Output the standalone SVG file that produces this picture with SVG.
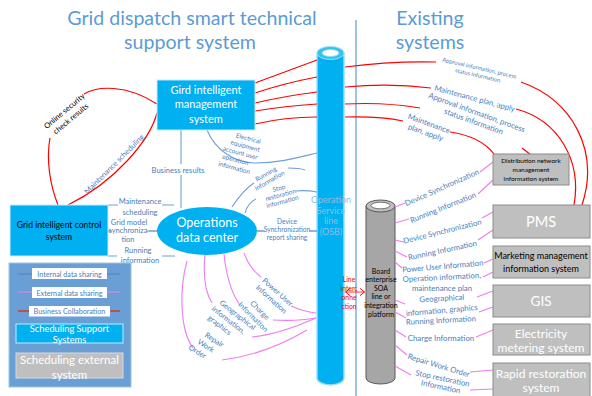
<svg xmlns="http://www.w3.org/2000/svg" width="592" height="396" viewBox="0 0 592 396">
  <defs>
    <style>
      text { font-family: Lato, "Liberation Sans", sans-serif; }
      .title { font-size: 19.6px; fill: #5b9bd5; text-anchor: middle; }
      .lab { fill: #4a7ebb; text-anchor: middle; }
      .red { fill: none; stroke: #ff0000; stroke-width: 1.2; }
      .blue { fill: none; stroke: #6f9fd6; stroke-width: 1.1; }
      .pink { fill: none; stroke: #ee7cee; stroke-width: 1.1; }
      .bg { fill: #ffffff; }
      .gbox { fill: #bfbfbf; stroke: #8c8c8c; stroke-width: 1; }
      .wt { fill: #ffffff; text-anchor: middle; }
      .bt { fill: #000000; text-anchor: middle; }
    </style>
    <marker id="chev" viewBox="0 0 6 8" refX="5" refY="4" markerWidth="6" markerHeight="8" orient="auto-start-reverse" markerUnits="userSpaceOnUse">
      <path d="M0,0 L5,4 L0,8" fill="none" stroke="#ff0000" stroke-width="1"/>
    </marker>
  </defs>

  <!-- headings -->
  <text class="title" x="192" y="25">Grid dispatch smart technical</text>
  <text class="title" x="190" y="49">support system</text>
  <text class="title" x="430" y="25">Existing</text>
  <text class="title" x="430" y="49">systems</text>

  <!-- divider between the two halves -->
  <line x1="356" y1="20" x2="356" y2="396" stroke="#9dc3e6" stroke-width="2"/>

  <!-- service bus column -->
  <g id="osb">
    <path d="M317,53 V378 A13.5,7 0 0 0 344,378 V53 Z" fill="#00b0f0" stroke="#9fdcf7" stroke-width="1.5"/>
    <ellipse cx="330.5" cy="53" rx="13.5" ry="6.5" fill="#33c3f3" stroke="#9fdcf7" stroke-width="1"/>
    <ellipse cx="330.5" cy="53" rx="8.5" ry="3.5" fill="#ffffff" stroke="#8ad6f5" stroke-width="0.8"/>
    <g class="lab" font-size="9" style="fill:#8fbde6">
      <text x="331" y="203">Operation</text>
      <text x="331" y="214">Service</text>
      <text x="331" y="224">line</text>
      <text x="331" y="235">(OSB)</text>
    </g>
  </g>

  <!-- enterprise integration platform column -->
  <g id="soa">
    <path d="M366,206 V378 A14.5,6 0 0 0 395,378 V206 Z" fill="#a6a6a6" stroke="#595959" stroke-width="1"/>
    <ellipse cx="380.5" cy="206" rx="14.5" ry="6" fill="#bfbfbf" stroke="#595959" stroke-width="1"/>
    <ellipse cx="380.5" cy="205.5" rx="9.5" ry="3.3" fill="#ffffff" stroke="#595959" stroke-width="0.8"/>
    <g class="bt" font-size="7">
      <text x="381" y="274">Board</text>
      <text x="381" y="282">enterprise</text>
      <text x="381" y="291">SOA</text>
      <text x="381" y="299">line or</text>
      <text x="381" y="308">integration</text>
      <text x="381" y="317">platform</text>
    </g>
  </g>

  <!-- connectors -->
  <g id="connectors">
    <!-- business collaboration (red) -->
    <path class="red" d="M255,83 Q285,72 317,60"/>
    <path class="red" d="M255,93 Q285,83 317,77"/>
    <path class="red" d="M255,103 Q285,96 317,92"/>
    <path class="red" d="M255,111 Q285,106 317,104"/>
    <path class="red" d="M255,124 Q285,117 317,117"/>
    <path class="red" d="M345,67 Q390,61 436,62"/>
    <path class="red" d="M345,87 Q390,83 431,88"/>
    <path class="red" d="M345,104 Q385,102 420,108"/>
    <path class="red" d="M345,117 Q380,116 403,121"/>
    <path class="red" d="M521,82 C572,100 600,150 582,205"/>
    <path class="red" d="M516,109 C558,120 582,160 574,205"/>
    <path class="red" d="M522,148 L531,155"/>
    <path class="red" d="M450,132 C470,135 485,142 494,154"/>
    <path class="red" d="M84,94 C97,86 126,84 157,104"/>
    <path class="red" d="M50,138 C46,160 50,185 58,205"/>
    <path class="red" d="M157,113 C150,140 115,182 68,205"/>
    <line x1="345.5" y1="292" x2="364.5" y2="292" stroke="#ff0000" stroke-width="0.8" marker-start="url(#chev)" marker-end="url(#chev)"/>

    <!-- internal data sharing (blue) -->
    <path class="blue" d="M181,130 V208"/>
    <path class="blue" d="M207,130 C215,150 235,163 255,163 C280,163 300,157 317,153"/>
    <path class="blue" d="M232,207 C240,195 246,188 254,183"/>
    <path class="blue" d="M288,168 Q300,168 305,170"/>
    <path class="blue" d="M245,213 C247,206 250,202 256,199"/>
    <path class="blue" d="M296,191 Q306,190 317,192"/>
    <path class="blue" d="M257,231 H317"/>
    <path class="blue" d="M108,205 H174"/>
    <path class="blue" d="M108,231 H158"/>
    <path class="blue" d="M108,256 H175"/>

    <!-- external data sharing (pink) -->
    <path class="pink" d="M244,253 C248,264 253,271 261,277"/>
    <path class="pink" d="M291,306 C300,310 308,312 316,313"/>
    <path class="pink" d="M224,254 C226,275 232,295 240,305"/>
    <path class="pink" d="M273,320 C290,321 305,320 316,318"/>
    <path class="pink" d="M205,254 C203,275 205,292 212,303"/>
    <path class="pink" d="M252,337 C275,335 300,325 316,318"/>
    <path class="pink" d="M187,261 C179,290 180,330 193,348"/>
    <path class="pink" d="M222,360 C255,356 285,343 307,330"/>

    <path class="pink" d="M395,207 L405,203"/>
    <path class="pink" d="M480,172 L493,162"/>
    <path class="pink" d="M395,223 L409,219"/>
    <path class="pink" d="M478,194 L493,180"/>
    <path class="pink" d="M395,240 L404,242"/>
    <path class="pink" d="M482,218 L493,212"/>
    <path class="pink" d="M395,251 L407,257"/>
    <path class="pink" d="M478,240 L493,230"/>
    <path class="pink" d="M395,262 L402,268"/>
    <path class="pink" d="M484,263 L493,259"/>
    <path class="pink" d="M483,277 L493,272"/>
    <path class="pink" d="M395,300 L405,304"/>
    <path class="pink" d="M477,297 L493,291"/>
    <path class="pink" d="M395,312 L406,318"/>
    <path class="pink" d="M479,312 L493,307"/>
    <path class="pink" d="M395,330 L406,337"/>
    <path class="pink" d="M476,337 L493,330"/>
    <path class="pink" d="M395,345 L407,355"/>
    <path class="pink" d="M470,372 L493,370"/>
    <path class="pink" d="M395,366 L411,375"/>
    <path class="pink" d="M470,390 L493,389"/>
  </g>

  <!-- connector labels -->
  <g id="labels">
    <g class="lab" font-size="5.8" transform="translate(479,70) rotate(13)">
      <text x="0" y="0">Approval information, process</text>
      <text x="0" y="7.5">status information</text>
    </g>
    <text class="lab" font-size="7.8" transform="translate(474,101) rotate(15)">Maintenance plan, apply</text>
    <g class="lab" font-size="7.8" transform="translate(476,115) rotate(20)">
      <text x="0" y="0">Approval information, process</text>
      <text x="0" y="9.5">status information</text>
    </g>
    <g class="lab" font-size="7.8" transform="translate(428,126) rotate(20)">
      <text x="0" y="0">Maintenance</text>
      <text x="0" y="9.5">plan, apply</text>
    </g>

    <g class="bt" font-size="7.6" transform="translate(66,113) rotate(-40)">
      <text x="0" y="0">Online security</text>
      <text x="0" y="10">check results</text>
    </g>
    <text class="lab" font-size="7.6" transform="translate(116,166) rotate(-45)">Maintenance scheduling</text>

    <rect class="bg" x="148" y="164" width="60" height="11"/>
    <text class="lab" font-size="7.6" x="178" y="172.5">Business results</text>

    <g class="lab" font-size="6.4" transform="rotate(15 240 154)">
      <text x="244" y="139">Electrical</text>
      <text x="243" y="147">equipment</text>
      <text x="240" y="155">account user</text>
      <text x="237" y="163">operation</text>
      <text x="238" y="171">information</text>
    </g>
    <g class="lab" font-size="6.5" transform="translate(267,176) rotate(-30)">
      <text x="0" y="0">Running</text>
      <text x="0" y="7.5">information</text>
    </g>
    <g class="lab" font-size="6.5" transform="translate(281,196) rotate(-15)">
      <text x="0" y="-6">Stop</text>
      <text x="0" y="1">restoration</text>
      <text x="0" y="8">information</text>
    </g>
    <rect class="bg" x="264" y="217" width="46" height="24"/>
    <g class="lab" font-size="6.6">
      <text x="287" y="224">Device</text>
      <text x="287" y="232">Synchronization</text>
      <text x="287" y="240">report sharing</text>
    </g>
    <path class="blue" d="M257,231 H265"/>
    <path class="blue" d="M309,231 H317"/>

    <rect class="bg" x="118" y="197" width="44" height="20"/>
    <rect class="bg" x="111" y="218" width="38" height="26"/>
    <rect class="bg" x="117" y="246" width="45" height="18"/>
    <g class="lab" font-size="7.5">
      <text x="140" y="204">Maintenance</text>
      <text x="140" y="214.5">scheduling</text>
      <text x="129" y="224.5">Grid model</text>
      <text x="128" y="233">synchroniza</text>
      <text x="128" y="242">tion</text>
      <text x="138" y="253">Running</text>
      <text x="140" y="263">information</text>
    </g>
    <path class="blue" d="M108,231 H112"/>
    <path class="blue" d="M147,231 H158"/>

    <g class="lab" font-size="7.5" transform="translate(276,294) rotate(42)">
      <text x="0" y="0">Power User</text>
      <text x="0" y="9.5">Information</text>
    </g>
    <g class="lab" font-size="7.5" transform="translate(258,312) rotate(45)">
      <text x="0" y="0">Charge</text>
      <text x="0" y="9.5">Information</text>
    </g>
    <g class="lab" font-size="7.5" transform="translate(236,317) rotate(38)">
      <text x="0" y="0">Geographical</text>
      <text x="-4" y="9.5">information,</text>
      <text x="-8" y="19">graphics</text>
    </g>
    <g class="lab" font-size="7.5" transform="translate(213,342) rotate(32)">
      <text x="0" y="0">Repair</text>
      <text x="-4" y="9.5">Work</text>
      <text x="-8" y="19">Order</text>
    </g>

    <g fill="#ff0000" font-size="6.8" text-anchor="middle">
      <text x="349" y="282">Line</text>
      <text x="349" y="291">interc</text>
      <text x="349" y="300">onne</text>
      <text x="349" y="309">ction</text>
    </g>

    <text class="lab" font-size="7.8" transform="translate(443,190) rotate(-24)">Device Synchronization</text>
    <text class="lab" font-size="7.8" transform="translate(444,210) rotate(-22)">Running Information</text>
    <text class="lab" font-size="7.8" transform="translate(443,234) rotate(-14)">Device Synchronization</text>
    <text class="lab" font-size="7.8" transform="translate(443,253) rotate(-12)">Running Information</text>
    <text class="lab" font-size="7.8" transform="translate(443,269) rotate(-5)">Power User Information</text>
    <text class="lab" font-size="7.8" transform="translate(442,280) rotate(-3)">Operation information,</text>
    <text class="lab" font-size="7.8" x="442" y="291">maintenance plan</text>
    <text class="lab" font-size="7.8" transform="translate(442,301) rotate(-3)">Geographical</text>
    <text class="lab" font-size="7.8" transform="translate(442,313) rotate(-5)">information, graphics</text>
    <text class="lab" font-size="7.8" transform="translate(441,323) rotate(-3)">Running Information</text>
    <text class="lab" font-size="7.8" x="441" y="341">Charge Information</text>
    <text class="lab" font-size="7.8" transform="translate(438,368) rotate(17)">Repair Work Order</text>
    <g class="lab" font-size="7.8" transform="translate(442,381) rotate(12)">
      <text x="0" y="0">Stop restoration</text>
      <text x="0" y="8.5">Information</text>
    </g>
  </g>

  <!-- support-side nodes -->
  <g id="grid-management">
    <rect x="157" y="80" width="98" height="50" fill="#00b0f0" stroke="#c4ebfb" stroke-width="1"/>
    <text class="wt" font-size="11" x="206" y="94">Gird intelligent</text>
    <text class="wt" font-size="11" x="206" y="108">management</text>
    <text class="wt" font-size="11" x="206" y="123">system</text>
  </g>

  <g id="grid-control">
    <rect x="10" y="205" width="98" height="51" fill="#00b0f0" stroke="#c4ebfb" stroke-width="1"/>
    <text class="bt" font-size="8.6" x="59" y="228">Grid intelligent control</text>
    <text class="bt" font-size="8.6" x="59" y="240">system</text>
  </g>

  <g id="data-center">
    <ellipse cx="207" cy="231" rx="50" ry="24" fill="#00b0f0"/>
    <text class="wt" font-size="12.5" x="207" y="227">Operations</text>
    <text class="wt" font-size="12.5" x="207" y="242">data center</text>
  </g>

  <!-- legend -->
  <g id="legend">
    <rect x="9" y="263" width="122" height="124" fill="#6a9fd5" stroke="#9dc3e6" stroke-width="1"/>
    <line x1="18" y1="274" x2="120" y2="274" stroke="#4f81bd" stroke-width="1"/>
    <rect class="bg" x="32" y="268" width="75" height="11"/>
    <text class="lab" font-size="7.2" x="69.5" y="276.5">Internal data sharing</text>
    <line x1="18" y1="292" x2="120" y2="292" stroke="#ee7cee" stroke-width="1"/>
    <rect class="bg" x="32" y="287" width="75" height="11"/>
    <text class="lab" font-size="7.2" x="69.5" y="295.5">External data sharing</text>
    <line x1="18" y1="311" x2="120" y2="311" stroke="#c0504d" stroke-width="2"/>
    <rect class="bg" x="29" y="306" width="81" height="10.5"/>
    <text class="lab" font-size="7.2" x="69.5" y="314">Business Collaboration</text>
    <rect x="16" y="324" width="107" height="19" fill="#00b0f0" stroke="#c4ebfb" stroke-width="1"/>
    <text class="wt" font-size="9.3" x="69.5" y="331.5">Scheduling Support</text>
    <text class="wt" font-size="9.3" x="69.5" y="343">Systems</text>
    <rect x="16" y="353" width="107" height="25" fill="#bfbfbf" stroke="#d9d9d9" stroke-width="1"/>
    <text class="wt" font-size="11.5" x="69.5" y="363.5">Scheduling external</text>
    <text class="wt" font-size="11.5" x="69.5" y="378.5">system</text>
  </g>

  <!-- existing systems -->
  <g id="distribution">
    <rect class="gbox" x="493" y="154" width="76" height="31" stroke="#595959"/>
    <text class="bt" font-size="6.5" x="531" y="163">Distribution network</text>
    <text class="bt" font-size="6.5" x="531" y="172">management</text>
    <text class="bt" font-size="6.5" x="531" y="181">information system</text>
  </g>
  <g id="pms">
    <rect class="gbox" x="493" y="205" width="97" height="33"/>
    <text class="wt" font-size="14.5" x="541" y="227">PMS</text>
  </g>
  <g id="marketing">
    <rect class="gbox" x="493" y="246" width="97" height="32"/>
    <text class="bt" font-size="9" x="541" y="259">Marketing management</text>
    <text class="bt" font-size="9" x="541" y="272">information system</text>
  </g>
  <g id="gis">
    <rect class="gbox" x="493" y="285" width="97" height="32"/>
    <text class="wt" font-size="13.5" x="541" y="306">GIS</text>
  </g>
  <g id="metering">
    <rect class="gbox" x="493" y="324" width="97" height="31"/>
    <text class="wt" font-size="12" x="541" y="337.5">Electricity</text>
    <text class="wt" font-size="12" x="541" y="352">metering system</text>
  </g>
  <g id="rapid-restoration">
    <rect class="gbox" x="493" y="363" width="97" height="36"/>
    <text class="wt" font-size="12" x="541" y="377.5">Rapid restoration</text>
    <text class="wt" font-size="12" x="541" y="392">system</text>
  </g>
</svg>
